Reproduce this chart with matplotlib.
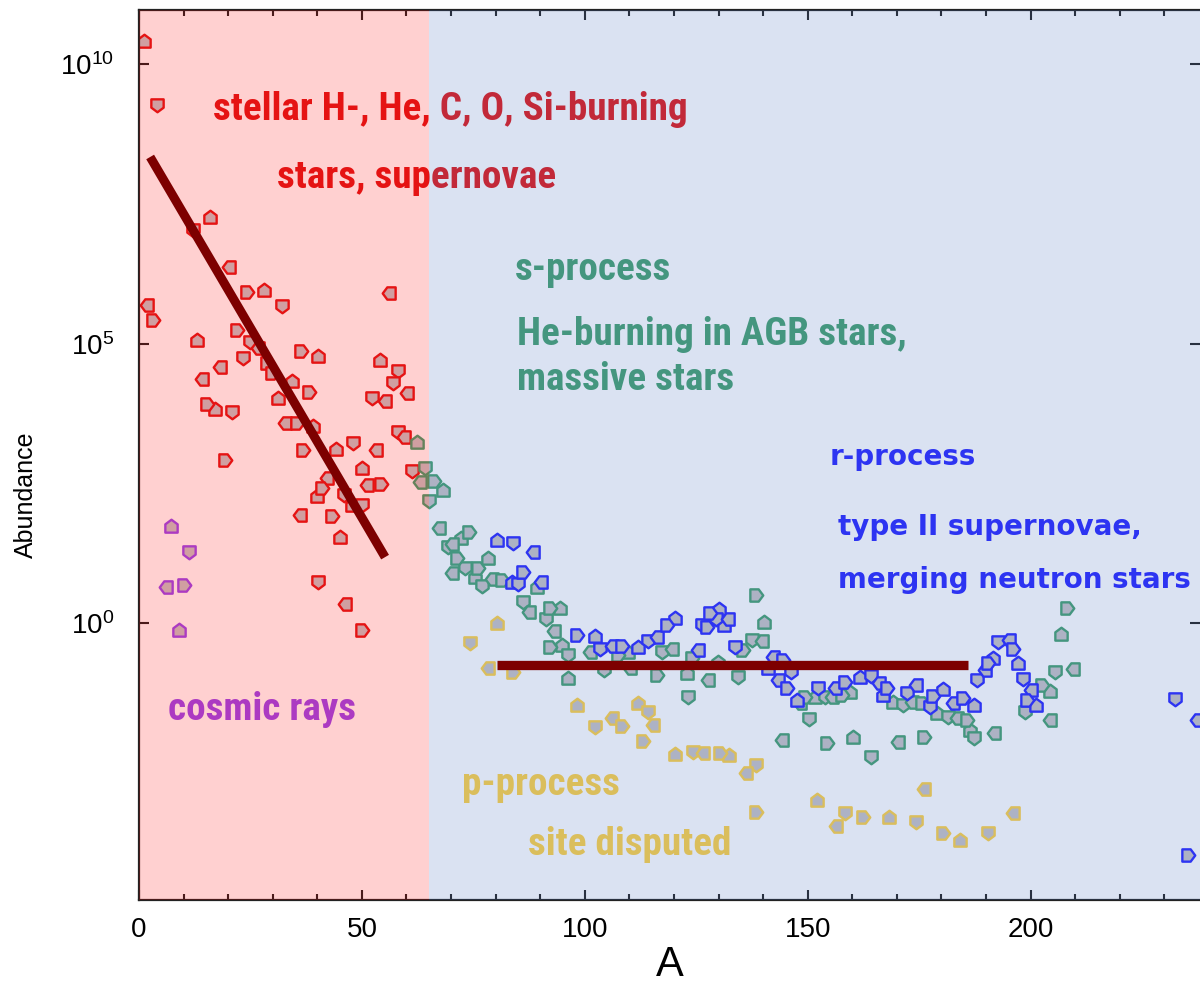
import numpy as np
import matplotlib
matplotlib.use("Agg")
import matplotlib.pyplot as plt
from matplotlib import font_manager
from matplotlib.markers import MarkerStyle
from matplotlib.path import Path
from matplotlib.transforms import Affine2D
from matplotlib.ticker import FixedLocator, MultipleLocator, NullLocator

# mass number A and log10(abundance) for each group of nuclei
stellar_A = [1.1, 4.0, 1.8, 3.1, 15.9, 12.1, 20.2, 24.2, 28.0, 32.1, 56.1, 22.0, 13.0, 24.9, 26.7,
             36.3, 40.1, 23.3, 18.2, 28.7, 54.0, 58.1, 14.1, 29.8, 34.3, 57.0, 60.1, 38.1, 31.2, 52.2,
             55.2, 15.2, 17.0, 20.9, 32.7, 35.4, 39.0, 58.1, 59.4, 36.8, 44.2, 48.0, 53.1, 19.3, 50.0,
             61.2, 42.2, 41.0, 39.9, 46.0, 51.1, 54.3, 47.8, 50.0, 36.1, 43.3, 45.1, 40.1, 46.2, 50.0]
stellar_log = [10.41, 9.27, 5.70, 5.42, 7.26, 7.03, 6.37, 5.92, 5.96, 5.67, 5.90, 5.24, 5.06, 5.03, 4.92,
               4.87, 4.78, 4.74, 4.58, 4.65, 4.70, 4.51, 4.36, 4.47, 4.33, 4.29, 4.11, 4.13, 4.03, 4.03,
               3.97, 3.92, 3.83, 3.77, 3.58, 3.58, 3.52, 3.42, 3.33, 3.09, 3.11, 3.22, 3.09, 2.92, 2.77,
               2.72, 2.59, 2.42, 2.27, 2.29, 2.47, 2.49, 2.11, 2.11, 1.93, 1.91, 1.54, 0.73, 0.34, -0.13]

cosmic_A = [7.2, 11.2, 6.1, 10.1, 9.0]
cosmic_log = [1.74, 1.27, 0.64, 0.68, -0.13]

s_A = [62.3, 64.1, 63.0, 66.1, 68.2, 65.0, 67.3, 74.0, 72.2, 69.3, 70.2, 71.3, 78.3, 73.1, 70.2,
       76.0, 75.3, 76.9, 79.1, 81.4, 89.2, 86.1, 87.4, 92.2, 94.4, 91.3, 93.0, 92.2, 94.8, 96.2,
       101.1, 107.4, 109.6, 117.3, 119.5, 124.0, 96.2, 104.3, 110.1, 116.1, 122.9, 123.1, 127.6, 138.3, 140.1,
       137.4, 139.7, 135.4, 129.8, 134.3, 148.2, 149.3, 151.6, 153.8, 155.4, 157.6, 159.4, 150.4, 144.2, 154.3,
       160.1, 164.1, 170.2, 176.2, 169.1, 171.3, 173.5, 175.6, 179.1, 181.4, 183.4, 185.7, 186.3, 187.4, 191.9,
       208.1, 206.9, 205.4, 209.4, 202.5, 204.3, 198.7, 204.3]
s_log = [3.24, 2.77, 2.52, 2.54, 2.38, 2.18, 1.70, 1.63, 1.52, 1.36, 1.41, 1.16, 1.16, 0.98, 0.89,
         0.98, 0.82, 0.66, 0.79, 0.77, 0.64, 0.38, 0.20, 0.27, 0.27, 0.07, -0.14, -0.43, -0.39, -0.57,
         -0.52, -0.57, -0.52, -0.52, -0.47, -0.63, -0.98, -0.84, -0.81, -0.93, -0.89, -1.32, -1.02, 0.50, 0.02,
         -0.30, -0.32, -0.48, -0.70, -0.97, -1.43, -1.32, -1.32, -1.32, -1.32, -1.29, -1.23, -1.72, -2.09, -2.15,
         -2.04, -2.40, -2.13, -2.04, -1.41, -1.47, -1.41, -1.43, -1.61, -1.68, -1.70, -1.74, -1.91, -2.06, -1.97,
         0.27, -0.20, -0.88, -0.82, -1.11, -1.22, -1.59, -1.74]

r_A = [80.3, 83.9, 88.3, 86.1, 83.6, 85.0, 90.1, 98.2, 102.2, 103.4, 106.1, 108.3, 111.9, 114.1, 116.1,
       118.4, 120.2, 126.2, 125.3, 128.0, 130.0, 129.4, 132.1, 127.4, 131.2, 133.6, 142.2, 144.4, 141.0, 146.2,
       143.3, 145.3, 147.5, 152.2, 156.1, 158.3, 161.7, 164.3, 166.1, 167.9, 166.8, 172.2, 174.4, 178.0, 180.3,
       177.4, 182.5, 184.8, 187.4, 187.9, 189.7, 190.4, 191.5, 192.6, 195.1, 196.0, 197.1, 198.4, 200.2, 199.1,
       201.3, 232.3, 237.4, 235.2]
r_log = [1.48, 1.43, 1.27, 0.91, 0.73, 0.70, 0.73, -0.21, -0.23, -0.47, -0.41, -0.41, -0.43, -0.32, -0.25,
         -0.04, 0.09, -0.04, -0.48, 0.18, 0.25, 0.07, 0.07, -0.07, -0.04, -0.43, -0.61, -0.66, -0.81, -0.88,
         -1.02, -1.16, -1.38, -1.16, -1.16, -1.06, -0.97, -0.95, -1.07, -1.16, -1.29, -1.25, -1.11, -1.31, -1.18,
         -1.50, -1.43, -1.34, -1.47, -1.02, -0.84, -0.72, -0.63, -0.34, -0.30, -0.47, -0.72, -1.00, -1.20, -1.38,
         -1.47, -1.36, -1.74, -4.15]

p_A = [80.3, 74.2, 78.3, 83.9, 98.2, 102.2, 106.1, 108.3, 111.9, 114.1, 115.2, 113.0, 120.2, 124.2, 126.5,
       130.3, 132.3, 138.3, 136.1, 138.3, 152.0, 158.3, 156.3, 162.3, 168.2, 174.4, 176.2, 180.3, 184.1, 190.4,
       196.0]
p_log = [0.00, -0.36, -0.81, -0.88, -1.47, -1.86, -1.70, -1.84, -1.43, -1.59, -1.82, -2.11, -2.34, -2.31, -2.33,
         -2.33, -2.36, -2.54, -2.68, -3.38, -3.17, -3.40, -3.63, -3.47, -3.47, -3.56, -2.97, -3.76, -3.88, -3.76,
         -3.40]

# schematic trend lines: (A, log10 abundance) end points
light_trend_A = [2.5, 55.2]
light_trend_log = [8.34, 1.18]
heavy_trend_A = [80.3, 185.9]
heavy_trend_log = [-0.75, -0.75]

y_ticks_log = [-5, 0, 5, 10]
y_tick_labels = [r'$\mathregular{10^{-6}}$', r'$\mathregular{10^{0}}$',
                 r'$\mathregular{10^{5}}$', r'$\mathregular{10^{10}}$']

installed = {(f.name, f.stretch) for f in font_manager.fontManager.ttflist}
names = {n for n, _ in installed}

# pick a narrow bold face for the process labels
narrow = dict(family='DejaVu Sans')
for fam in ['Liberation Sans Narrow', 'Arial Narrow', 'Roboto Condensed', 'Open Sans Condensed',
            'Noto Sans Condensed', 'DejaVu Sans Condensed']:
    if fam in names:
        narrow = dict(family=fam)
        break
else:
    for fam in ['Noto Sans', 'DejaVu Sans', 'Open Sans', 'Roboto']:
        if any(n == fam and s in ('condensed', 'semi-condensed', 'extra-condensed')
               for n, s in installed):
            narrow = dict(family=fam, fontstretch='condensed')
            break

plain = 'Liberation Sans' if 'Liberation Sans' in names else 'DejaVu Sans'

plt.rcParams['font.family'] = [plain, 'DejaVu Sans']
plt.rcParams['mathtext.fontset'] = 'custom'
plt.rcParams['mathtext.rm'] = plain

fig = plt.figure(figsize=(12, 9.88), dpi=100)
ax = fig.add_axes([139 / 1200, 88 / 988, 1061 / 1200, 890 / 988])

# house shaped marker, turned different ways
house = Path([(-1, -1), (1, -1), (1, 0.35), (0, 1.1), (-1, 0.35), (-1, -1)],
             [Path.MOVETO, Path.LINETO, Path.LINETO, Path.LINETO, Path.LINETO, Path.CLOSEPOLY])
angles = [0, 180, 90, 270]


def points(A, logy, edge):
    A = np.asarray(A)
    y = 10.0 ** np.asarray(logy)
    for k, ang in enumerate(angles):
        m = MarkerStyle(house, transform=Affine2D().rotate_deg(ang))
        ax.scatter(A[k::4], y[k::4], s=95, marker=m, facecolor='#c6c4c6',
                   edgecolor=edge, linewidth=1.7, zorder=2)


red = '#e01818'
purple = '#9a48ee'
green = '#43a070'
blue = '#2626ff'
gold = '#ffd244'

points(stellar_A, stellar_log, red)
points(cosmic_A, cosmic_log, purple)
points(s_A, s_log, green)
points(r_A, r_log, blue)
points(p_A, p_log, gold)

# tinted regions sit on top of points and text
ax.axvspan(0, 65, color='#ff0000', alpha=0.185, lw=0, zorder=3)
ax.axvspan(65, 240, color='#4a6ebe', alpha=0.2, lw=0, zorder=3)

ax.plot(light_trend_A, 10.0 ** np.array(light_trend_log), color='#7d0000', lw=6.5,
        solid_capstyle='butt', zorder=4)
ax.plot(heavy_trend_A, 10.0 ** np.array(heavy_trend_log), color='#7d0000', lw=6.7,
        solid_capstyle='butt', zorder=4)

nb = dict(fontweight='bold', zorder=1, va='baseline', fontsize=29, **narrow)
narrow_texts = [
    ax.text(16.6, 10 ** 9.0, 'stellar H-, He, C, O, Si-burning', color=red, **nb),
    ax.text(30.9, 10 ** 7.78, 'stars, supernovae', color=red, **nb),
    ax.text(84.3, 10 ** 6.14, 's-process', color=green, **nb),
    ax.text(84.8, 10 ** 4.97, 'He-burning in AGB stars,', color=green, **nb),
    ax.text(84.8, 10 ** 4.17, 'massive stars', color=green, **nb),
    ax.text(6.5, 10 ** -1.74, 'cosmic rays', color=purple, **nb),
    ax.text(72.4, 10 ** -3.08, 'p-process', color=gold, **nb),
    ax.text(87.2, 10 ** -4.15, 'site disputed', color=gold, **nb),
]

wb = dict(family='DejaVu Sans', fontweight='bold', zorder=1, va='baseline', color=blue, fontsize=20)
ax.text(154.9, 10 ** 2.83, 'r-process', **wb)
ax.text(156.7, 10 ** 1.57, 'type II supernovae,', **wb)
ax.text(156.7, 10 ** 0.63, 'merging neutron stars', **wb)

ax.set_yscale('log')
ax.set_xlim(0, 238)
ax.set_ylim(10 ** -4.955, 10 ** 10.97)
ax.yaxis.set_major_locator(FixedLocator([10.0 ** v for v in y_ticks_log]))
ax.yaxis.set_minor_locator(NullLocator())
ax.set_yticklabels(y_tick_labels)
ax.xaxis.set_major_locator(MultipleLocator(50))
ax.xaxis.set_minor_locator(MultipleLocator(10))

ax.tick_params(which='both', direction='in', top=True, right=True, width=1.5, colors='#222222')
ax.tick_params(which='major', length=7, labelsize=20, labelcolor='black')
ax.tick_params(which='minor', length=4.5)
ax.tick_params(axis='y', pad=18)
ax.tick_params(axis='x', pad=12)

for side in ['left', 'bottom', 'top']:
    ax.spines[side].set_linewidth(1.6)
    ax.spines[side].set_color('#222222')
ax.spines['right'].set_visible(False)

ax.set_xlabel('A', fontsize=30, labelpad=2)
ax.set_ylabel('Abundance', fontsize=18)
ax.yaxis.set_label_coords(-0.095, 0.455)

# size the narrow labels so the top line spans about 475 px
fig.canvas.draw()
w = narrow_texts[0].get_window_extent(fig.canvas.get_renderer()).width
size = 29 * 475 / w
for t in narrow_texts:
    t.set_fontsize(size)

fig.savefig('out.png', dpi=100)
